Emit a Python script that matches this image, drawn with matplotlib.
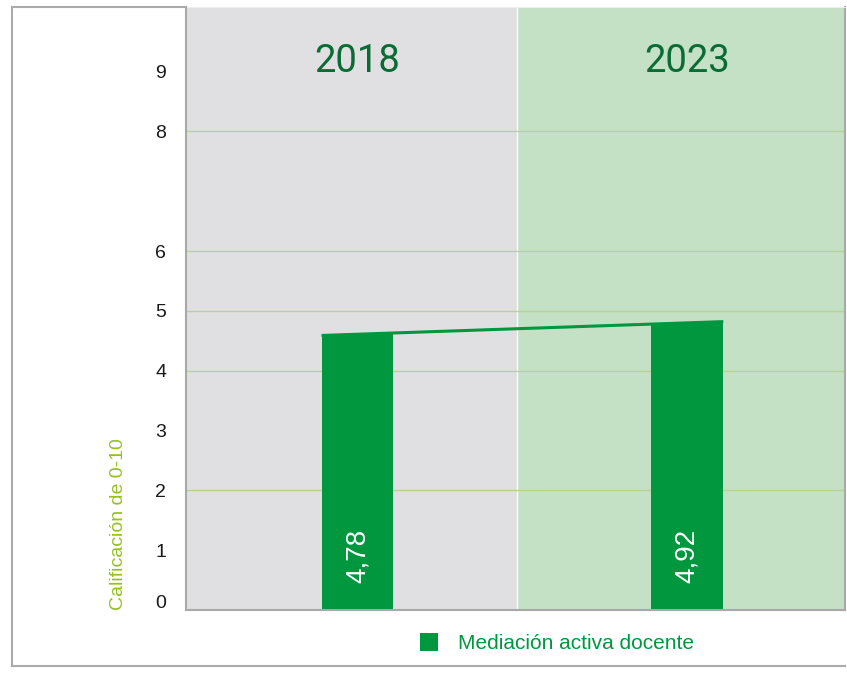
import numpy as np
import matplotlib
matplotlib.use("Agg")
import matplotlib.pyplot as plt
from matplotlib.lines import Line2D
from matplotlib.transforms import ScaledTranslation

plt.rcParams['font.family'] = ['Liberation Sans', 'DejaVu Sans']

# datos
anios = ['2018', '2023']
alturas = [4.61, 4.80]          # altura visual de las barras
etiquetas = ['4,78', '4,92']    # valores rotulados
serie = 'Mediación activa docente'
yticks = [0, 1, 2, 3, 4, 5, 6, 8, 9]
grid_vals = [2, 4, 5, 6, 8]

verde = '#00973f'
W, H = 847, 675
fig = plt.figure(figsize=(8.47, 6.75), dpi=100)

# marco exterior (izquierda, arriba, abajo)
gris = '#ababab'
fig.add_artist(Line2D([12 / W, 12 / W], [1 - 7 / H, 1 - 666 / H], color=gris, lw=1.5))
fig.add_artist(Line2D([12 / W, 186 / W], [1 - 7 / H, 1 - 7 / H], color=gris, lw=1.5))
fig.add_artist(Line2D([12 / W, 845 / W], [1 - 666 / H, 1 - 666 / H], color=gris, lw=1.5))

ax = fig.add_axes([186 / W, 1 - 610 / H, 659 / W, 603 / H])
x = np.arange(len(anios))
ax.set_xlim(-0.52, 1.478)
ax.set_ylim(0, 10.08)

# paneles de fondo
ax.axvspan(-0.52, 0.483, color='#e0e0e2', zorder=0)
ax.axvspan(0.483, 1.478, color='#c4e0c5', zorder=0)
ax.axvline(0.483, color='white', lw=1, zorder=0.5)

for g in grid_vals:
    ax.axhline(g, color='#b9d38e', lw=1, zorder=1)

ancho = 0.218
barras = ax.bar(x, alturas, width=ancho, color=verde, zorder=2, label=serie)

# linea que une las barras
pend = (alturas[1] - alturas[0]) / (x[1] - x[0])
xl = np.array([x[0] - ancho / 2, x[1] + ancho / 2])
ax.plot(xl, alturas[0] + pend * (xl - x[0]), color=verde, lw=2.2, zorder=3,
        solid_capstyle='butt')

for xi, et in zip(x, etiquetas):
    ax.text(xi, 0.45, et, rotation=90, rotation_mode='anchor', ha='left',
            va='center', color='white', fontsize=20, zorder=4)

for xi, an in zip(x, anios):
    ax.text(xi, 0.91, an, transform=ax.get_xaxis_transform(), ha='center',
            va='center', color='#0b6b35', fontsize=27.5,
            family=['Roboto', 'Liberation Sans'])

ax.set_xticks([])
ax.set_yticks(yticks)
ax.set_yticklabels([str(t) for t in yticks], fontsize=14, color='#1a1a1a')
ax.tick_params(axis='y', length=0, pad=14.4)
# el 0 aparece un poco por encima del eje
lab0 = ax.get_yticklabels()[0]
lab0.set_transform(lab0.get_transform() + ScaledTranslation(0, 9 / 100, fig.dpi_scale_trans))

for s in ['left', 'bottom', 'right']:
    ax.spines[s].set_color('#a8a8a8')
    ax.spines[s].set_linewidth(1.5)
ax.spines['top'].set_color('#eeeeee')

ax.text(-0.103, 0.0, 'Calificación de 0-10', transform=ax.transAxes,
        rotation=90, ha='center', va='bottom', color='#95c11f', fontsize=14)

fig.legend(handles=[barras], loc='center', bbox_to_anchor=(557 / W, 1 - 643 / H),
           frameon=False, fontsize=15, handlelength=0.91, handleheight=0.95,
           handletextpad=0.96, borderpad=0, labelcolor=verde)

fig.savefig('out.png', dpi=100)
